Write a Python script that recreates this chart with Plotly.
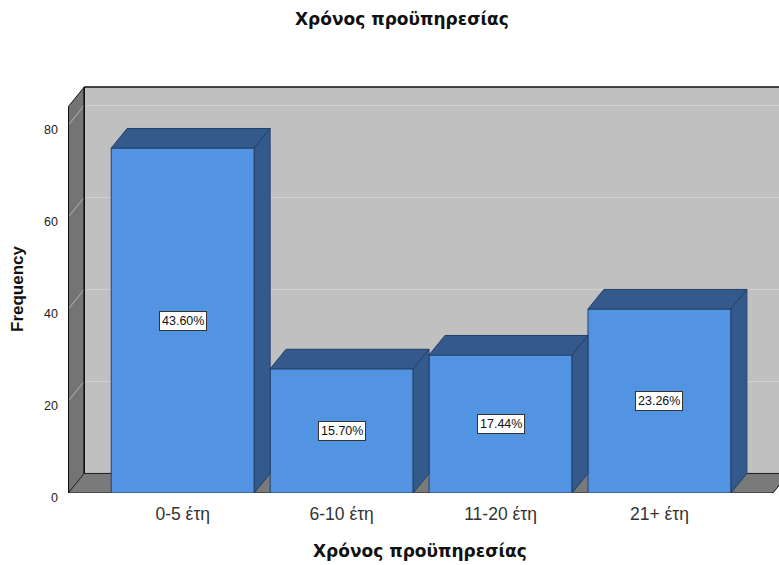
import plotly.graph_objects as go

# Frequencies of years of service (N = 172)
categories = ["0-5 έτη", "6-10 έτη", "11-20 έτη", "21+ έτη"]
frequencies = [75, 27, 30, 40]
percent_labels = ["43.60%", "15.70%", "17.44%", "23.26%"]
y_ticks = [0, 20, 40, 60, 80]

title_text = "Χρόνος προϋπηρεσίας"
x_title = "Χρόνος προϋπηρεσίας"
y_title = "Frequency"

# 3-D look: depth offset of the chart box and bars (x in category units, y in frequency units)
DX = 0.1
DY = 4.25
BAR_W = 0.9
WALL_H = 84.0
X_MIN, X_MAX = -0.722, 3.752
Y_MAX = 88.7
FLOOR_END = 3.714

FRONT = "#5294e2"
SHADE = "#345a8c"
EDGE = "#22406a"

W, H = 779, 565
ML, MR, MT, MB = 68, 0, 85, 72

SANS = "Liberation Sans, Arial, sans-serif"
GREEK_TITLE = "DejaVu Sans, sans-serif"

x_idx = list(range(len(categories)))
fig = go.Figure()

shapes = []
xl = -0.72
# back wall
shapes.append(dict(type="path", layer="below", xref="x", yref="y",
                   path=f"M{xl+DX},{DY} L{X_MAX+0.2},{DY} L{X_MAX+0.2},{WALL_H+DY} L{xl+DX},{WALL_H+DY} Z",
                   fillcolor="#c0c0c0", line=dict(width=0)))
# horizontal gridlines on back wall
for v in y_ticks:
    if v > 0:
        shapes.append(dict(type="line", layer="below", xref="x", yref="y",
                           x0=xl+DX, x1=X_MAX+0.2, y0=v+DY, y1=v+DY,
                           line=dict(color="#d2d2d2", width=1)))
# left wall with diagonal gridlines
shapes.append(dict(type="path", layer="below", xref="x", yref="y",
                   path=f"M{xl},0 L{xl},{WALL_H} L{xl+DX},{WALL_H+DY} L{xl+DX},{DY} Z",
                   fillcolor="#747474", line=dict(color="#1a1a1a", width=1)))
for v in y_ticks:
    shapes.append(dict(type="line", layer="below", xref="x", yref="y",
                       x0=xl, x1=xl+DX, y0=v, y1=v+DY,
                       line=dict(color="#b4b4b4", width=1)))
# floor
shapes.append(dict(type="path", layer="below", xref="x", yref="y",
                   path=f"M{xl},0 L{FLOOR_END},0 L{FLOOR_END+DX},{DY} L{xl+DX},{DY} Z",
                   fillcolor="#7a7a7a", line=dict(color="#1a1a1a", width=1)))
# box edges
shapes.append(dict(type="line", layer="below", xref="x", yref="y",
                   x0=xl+DX, x1=X_MAX+0.2, y0=WALL_H+DY, y1=WALL_H+DY,
                   line=dict(color="#111111", width=1.5)))
shapes.append(dict(type="line", layer="below", xref="x", yref="y",
                   x0=xl+DX, x1=xl+DX, y0=DY, y1=WALL_H+DY,
                   line=dict(color="#111111", width=1.5)))
shapes.append(dict(type="line", layer="below", xref="x", yref="y",
                   x0=xl, x1=xl, y0=0, y1=WALL_H,
                   line=dict(color="#111111", width=1.5)))

# front faces of bars
fig.add_trace(go.Bar(x=x_idx, y=frequencies, width=BAR_W,
                     marker=dict(color=FRONT, line=dict(color=EDGE, width=1)),
                     hoverinfo="skip", showlegend=False))

# top and side faces of bars
for i, v in zip(x_idx, frequencies):
    x0, x1 = i - BAR_W / 2, i + BAR_W / 2
    fig.add_trace(go.Scatter(x=[x0, x1, x1 + DX, x0 + DX, x0],
                             y=[v, v, v + DY, v + DY, v],
                             mode="lines", fill="toself", fillcolor=SHADE,
                             line=dict(color=EDGE, width=1),
                             hoverinfo="skip", showlegend=False))
    fig.add_trace(go.Scatter(x=[x1, x1, x1 + DX, x1 + DX, x1],
                             y=[0, v, v + DY, DY, 0],
                             mode="lines", fill="toself", fillcolor=SHADE,
                             line=dict(color=EDGE, width=1),
                             hoverinfo="skip", showlegend=False))

annotations = []
for i, v, lab in zip(x_idx, frequencies, percent_labels):
    annotations.append(dict(x=i, y=v / 2, xref="x", yref="y", text=lab, showarrow=False,
                            font=dict(family=SANS, size=12.5, color="#111111"),
                            bgcolor="white", bordercolor="#333333", borderwidth=1, borderpad=2))


def paper_pos(px, py):
    # convert page pixels to paper fractions
    return (px - ML) / (W - ML - MR), (H - MB - py) / (H - MT - MB)


tx, ty = paper_pos(402, 19)
annotations.append(dict(x=tx, y=ty, xref="paper", yref="paper", text=f"<b>{title_text}</b>",
                        xanchor="center", yanchor="middle", showarrow=False,
                        font=dict(family=GREEK_TITLE, size=17, color="#111111")))
ax_, ay_ = paper_pos(420, 551)
annotations.append(dict(x=ax_, y=ay_, xref="paper", yref="paper", text=f"<b>{x_title}</b>",
                        xanchor="center", yanchor="middle", showarrow=False,
                        font=dict(family=GREEK_TITLE, size=17, color="#111111")))

fig.update_layout(
    width=W, height=H,
    margin=dict(l=ML, r=MR, t=MT, b=MB),
    paper_bgcolor="white", plot_bgcolor="white",
    font=dict(family=SANS, color="#222222"),
    shapes=shapes,
    annotations=annotations,
    showlegend=False,
    xaxis=dict(range=[X_MIN, X_MAX], tickvals=x_idx, ticktext=categories,
               showgrid=False, zeroline=False, showline=False, ticks="",
               tickfont=dict(size=17.5, color="#333333"), ticklabelstandoff=8),
    yaxis=dict(range=[0, Y_MAX], tickvals=y_ticks, showgrid=False, zeroline=False,
               showline=False, ticks="", tickfont=dict(size=12.5, color="#222222"),
               ticklabelstandoff=9, ticklabelshift=5,
               title=dict(text=f"<b>{y_title}</b>", font=dict(size=17, color="#111111"), standoff=16)),
)

fig.write_html("out.html")
